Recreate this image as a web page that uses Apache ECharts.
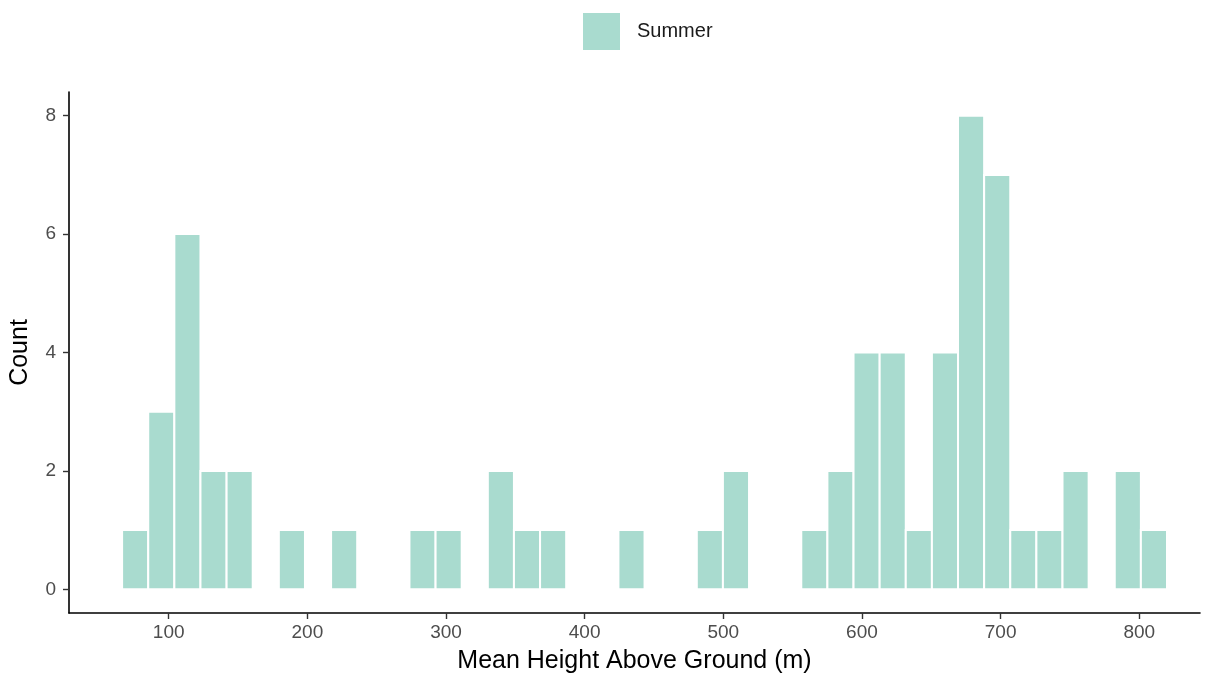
<!DOCTYPE html>
<html>
<head>
<meta charset="utf-8">
<script src="https://cdn.jsdelivr.net/npm/echarts@6/dist/echarts.min.js"></script>
<style>
html,body{margin:0;padding:0;background:#fff;}
#chart{width:1208px;height:679px;}
</style>
</head>
<body>
<div id="chart"></div>
<script>
// Histogram definition (40 bins)
const binStart = 66.4;
const binWidth = 18.84;
const counts = [1,3,6,2,2,0,1,0,1,0,0,1,1,0,2,1,1,0,0,1,0,0,1,2,0,0,1,2,4,4,1,4,8,7,1,1,2,0,2,1];
const xTicks = [100,200,300,400,500,600,700,800];
const yTicks = [0,2,4,6,8];
const seriesName = 'Summer';

const barData = counts.map((c,i)=>[binStart+i*binWidth, binStart+(i+1)*binWidth, c]);

const fill = '#a9dbcf';
const chart = echarts.init(document.getElementById('chart'), null, {renderer:'canvas'});
const axisFont = 'Liberation Sans, Arial, sans-serif';
chart.setOption({
  animation:false,
  backgroundColor:'#ffffff',
  legend:{
    show:true,
    left:583, top:13, padding:0,
    itemWidth:37, itemHeight:37,
    data:[{name:seriesName, icon:'rect'}],
    textStyle:{fontFamily:axisFont, fontSize:20, color:'#1a1a1a', padding:[0,0,0,12]}
  },
  grid:{left:65, right:8, top:92, bottom:66, containLabel:false},
  xAxis:{
    type:'value', min:28.1, max:843.8,
    name:'Mean Height Above Ground (m)', nameLocation:'middle', nameGap:36,
    nameTextStyle:{fontFamily:axisFont, fontSize:25, color:'#000', verticalAlign:'top'},
    axisLine:{show:true, onZero:false, lineStyle:{color:'#000', width:1.6}},
    axisTick:{show:true, length:6, customValues:xTicks, lineStyle:{color:'#333', width:1.4}},
    axisLabel:{customValues:xTicks, fontFamily:axisFont, fontSize:19, color:'#4d4d4d', margin:10},
    splitLine:{show:false}
  },
  yAxis:{
    type:'value', min:-0.4, max:8.4,
    name:'Count', nameLocation:'middle', nameGap:36, nameRotate:90,
    nameTextStyle:{fontFamily:axisFont, fontSize:25, color:'#000'},
    axisLine:{show:true, onZero:false, lineStyle:{color:'#000', width:1.6}},
    axisTick:{show:true, length:6, customValues:yTicks, lineStyle:{color:'#333', width:1.4}},
    axisLabel:{customValues:yTicks, fontFamily:axisFont, fontSize:19, color:'#4d4d4d', margin:13},
    splitLine:{show:false}
  },
  series:[{
    type:'custom',
    name:seriesName,
    itemStyle:{color:fill},
    encode:{x:[0,1], y:2},
    data:barData,
    renderItem:function(params, api){
      const c = api.value(2);
      if(!c) return null;
      const p0 = api.coord([api.value(0), 0]);
      const p1 = api.coord([api.value(1), c]);
      return {
        type:'rect',
        shape:{x:p0[0], y:p1[1], width:p1[0]-p0[0], height:p0[1]-p1[1]},
        style:{fill:fill, stroke:'#ffffff', lineWidth:2}
      };
    }
  }]
});
</script>
</body>
</html>
